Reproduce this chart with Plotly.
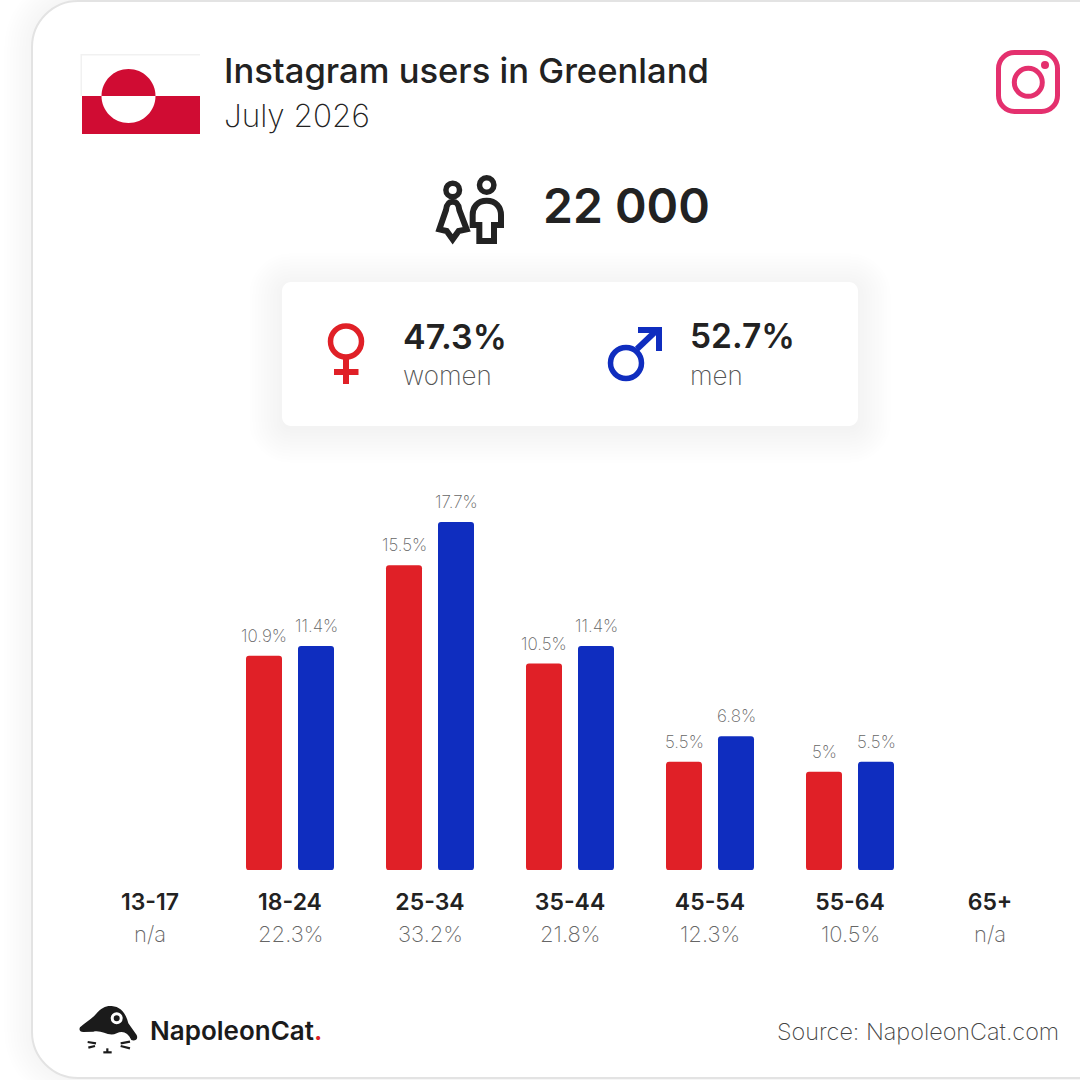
import plotly.graph_objects as go

ages = ["13-17", "18-24", "25-34", "35-44", "45-54", "55-64", "65+"]
totals = ["n/a", "22.3%", "33.2%", "21.8%", "12.3%", "10.5%", "n/a"]
women = [None, 10.9, 15.5, 10.5, 5.5, 5, None]
men = [None, 11.4, 17.7, 11.4, 6.8, 5.5, None]

FONT = "Inter"
RED, BLUE = "#E02027", "#0F2DBF"
DARK, GREY = "#222222", "#666666"
FLAG = "#D00C33"
INSTA = "#E4306E"
LIGHT = 200


def fx(x):
    return x / 1080


def fy(y):
    return 1 - y / 1080


def pts(cmds):
    # path in canvas pixels -> paper coords
    out = []
    for c in cmds:
        if isinstance(c, str):
            out.append(c)
        else:
            out.append(f"{fx(c[0]):.5f},{fy(c[1]):.5f}")
    return " ".join(out)


def shape_path(cmds, fill=None, line=None, width=0, layer="above", opacity=None):
    s = dict(type="path", xref="paper", yref="paper", path=pts(cmds), layer=layer,
             line=dict(width=width, color=line or "rgba(0,0,0,0)"))
    if fill:
        s["fillcolor"] = fill
    if opacity is not None:
        s["opacity"] = opacity
    return s


def round_rect(x0, y0, x1, y1, r):
    k = r * 0.45
    return ["M", (x0 + r, y0), "L", (x1 - r, y0), "C", (x1 - k, y0), (x1, y0 + k), (x1, y0 + r),
            "L", (x1, y1 - r), "C", (x1, y1 - k), (x1 - k, y1), (x1 - r, y1),
            "L", (x0 + r, y1), "C", (x0 + k, y1), (x0, y1 - k), (x0, y1 - r),
            "L", (x0, y0 + r), "C", (x0, y0 + k), (x0 + k, y0), (x0 + r, y0), "Z"]


def half_disc(cx, cy, r, top):
    s = -1 if top else 1
    k = r * 0.5523
    return ["M", (cx - r, cy), "C", (cx - r, cy + s * k), (cx - k, cy + s * r), (cx, cy + s * r),
            "C", (cx + k, cy + s * r), (cx + r, cy + s * k), (cx + r, cy), "Z"]


def rect(x0, y0, x1, y1, fill):
    return dict(type="rect", xref="paper", yref="paper", x0=fx(x0), x1=fx(x1), y0=fy(y0), y1=fy(y1),
                fillcolor=fill, line=dict(width=0))


def circle(cx, cy, r, fill=None, line=None, width=0):
    return dict(type="circle", xref="paper", yref="paper", x0=fx(cx - r), x1=fx(cx + r),
                y0=fy(cy - r), y1=fy(cy + r), fillcolor=fill or "rgba(0,0,0,0)",
                line=dict(width=width, color=line or "rgba(0,0,0,0)"))


def seg(x0, y0, x1, y1, color, width):
    return dict(type="line", xref="paper", yref="paper", x0=fx(x0), x1=fx(x1), y0=fy(y0), y1=fy(y1),
                line=dict(color=color, width=width))


def zoomed(points, ox, oy):
    return [p if isinstance(p, str) else (ox + p[0] / 3, oy + p[1] / 3) for p in points]


shapes = []

# soft shadow and outline of the big card
for i in range(10):
    shapes.append(shape_path(round_rect(31 - 3 * i, 1 - 3 * i, 1200, 1078 + 3 * i, 46 + 3 * i),
                             fill="#000000", layer="below", opacity=0.003))
shapes.append(shape_path(round_rect(32, 1, 1200, 1078, 46), fill="#ffffff", line="#e3e3e3", width=2, layer="below"))

# flag
shapes.append(rect(80.5, 54, 200, 96, "#f1f1f1"))
shapes.append(rect(82, 55.5, 200, 96, "#ffffff"))
shapes.append(rect(82, 96, 200, 134, FLAG))
shapes.append(shape_path(half_disc(128.5, 96, 27, True), fill=FLAG))
shapes.append(shape_path(half_disc(128.5, 96, 27, False), fill="#ffffff"))

# instagram logo
shapes.append(shape_path(round_rect(998.5, 52.5, 1057.5, 111.5, 16), line=INSTA, width=5))
shapes.append(circle(1028.3, 82.3, 14, line=INSTA, width=5))
shapes.append(circle(1045, 65, 4, fill=INSTA))

# people icon
woman = ["M", (98, 125), "C", (85, 125), (80, 133), (78, 150), "L", (58, 208), "L", (80, 213), "L", (98, 238),
         "L", (116, 213), "L", (140, 208), "L", (118, 150), "C", (116, 133), (111, 125), (98, 125), "Z"]
man = ["M", (200, 122), "C", (172, 122), (158, 142), (158, 165), "L", (158, 195), "L", (178, 195), "L", (178, 243),
       "L", (222, 243), "L", (222, 195), "L", (243, 195), "L", (243, 165), "C", (243, 142), (228, 122), (200, 122), "Z"]
shapes.append(shape_path(zoomed(woman, 420, 160), line=DARK, width=6))
shapes.append(shape_path(zoomed(man, 420, 160), line=DARK, width=6))
shapes.append(circle(452.7, 190, 6.8, line=DARK, width=5.5))
shapes.append(circle(486.7, 185, 7.2, line=DARK, width=5.5))

# gender card with shadow
for i in range(12):
    shapes.append(shape_path(round_rect(282 - 3 * i, 282 - 3 * i + 4, 858 + 3 * i, 426 + 3 * i + 4, 8 + 3 * i),
                             fill="#000000", layer="below", opacity=0.003))
shapes.append(shape_path(round_rect(282, 282, 858, 426, 9), fill="#ffffff", layer="below"))

# venus
shapes.append(circle(346, 341.5, 15.5, line=RED, width=5.5))
shapes.append(rect(343, 358, 349, 384, RED))
shapes.append(rect(334, 369, 358.5, 375, RED))

# mars
shapes.append(circle(626, 363, 15.5, line=BLUE, width=5.5))
shapes.append(seg(637, 349, 656, 331, BLUE, 6))
shapes.append(rect(638, 327, 662, 333, BLUE))
shapes.append(rect(656, 327, 662, 351, BLUE))

# cat logo
blob = ["M", (240, 142), "C", (255, 128), (275, 118), (290, 100), "C", (302, 84), (320, 76), (335, 78),
        "C", (362, 80), (378, 100), (385, 130), "L", (410, 165), "C", (416, 178), (404, 184), (394, 180),
        "C", (384, 158), (368, 150), (350, 160), "C", (325, 172), (305, 148), (280, 155),
        "L", (250, 156), "C", (240, 155), (236, 150), (240, 142), "Z"]
shapes.append(shape_path(zoomed(blob, 0, 980), fill="#1b1b1b"))
shapes.append(circle(116.7, 1018.3, 6, fill="#ffffff"))
shapes.append(circle(116.7, 1018.3, 3, fill="#1b1b1b"))
for a, b, c, d in [(263, 186, 288, 190), (265, 203, 285, 198), (362, 190, 390, 185), (362, 198, 390, 205),
                   (310, 217, 335, 217), (322, 205, 322, 217)]:
    shapes.append(seg(a / 3, 980 + b / 3, c / 3, 980 + d / 3, "#1b1b1b", 2.2))

# little squares that round the foot of each bar
r = 3
for i in range(len(ages)):
    if women[i] is None:
        continue
    cx = 150 + 140 * i
    for left in (cx - 44, cx + 8):
        right = left + 36
        shapes.append(shape_path(["M", (left, 870.5), "L", (left + r, 870.5), "Q", (left, 870), (left, 870 - r), "Z"],
                                 fill="#ffffff"))
        shapes.append(shape_path(["M", (right, 870.5), "L", (right - r, 870.5), "Q", (right, 870), (right, 870 - r), "Z"],
                                 fill="#ffffff"))

fig = go.Figure()
fig.add_bar(x=ages, y=women, name="women", marker=dict(color=RED, cornerradius=3, line=dict(width=0)))
fig.add_bar(x=ages, y=men, name="men", marker=dict(color=BLUE, cornerradius=3, line=dict(width=0)))


def label(x, y, text, size, weight=400, color=DARK, anchor="left", family=FONT):
    return dict(xref="paper", yref="paper", x=fx(x), y=fy(y), text=text, showarrow=False, xanchor=anchor,
                yanchor="middle", font=dict(family=family, size=size, color=color, weight=weight),
                borderpad=0, borderwidth=0)


notes = [
    label(224, 70.5, "Instagram users in Greenland", 34.6, 500),
    label(224, 115, "July 2026", 31.5, LIGHT, "#222222"),
    label(543, 205, "22 000", 48, 600),
    label(403, 336, "47.3%", 34, 600),
    label(403, 376, "women", 26, LIGHT, "#555555"),
    label(690, 336, "52.7%", 33.5, 600),
    label(690, 376, "men", 26, LIGHT, "#555555"),
    label(150, 1030, "NapoleonCat<span style='color:#E02027'>.</span>", 26, 600, "#1b1b1b"),
    label(1059, 1031, "Source: NapoleonCat.com", 23.4, LIGHT, "#444444", "right"),
]
for name, total in zip(ages, totals):
    notes.append(dict(x=name, xref="x", yref="paper", y=fy(934), text=total, showarrow=False, yanchor="middle",
                      font=dict(family=FONT, size=22, weight=LIGHT, color=GREY)))
for values, shift in ((women, -26), (men, 26)):
    for name, v in zip(ages, values):
        if v is None:
            continue
        notes.append(dict(x=name, y=v, xref="x", yref="y", text=f"{v}%", showarrow=False, xshift=shift, yshift=20,
                          yanchor="middle", font=dict(family=FONT, size=17, weight=LIGHT, color=GREY)))

fig.update_layout(
    width=1080, height=1080, margin=dict(l=0, r=0, t=0, b=0),
    paper_bgcolor="#ffffff", plot_bgcolor="rgba(0,0,0,0)",
    barmode="group", bargap=36 / 140, bargroupgap=16 / 52, showlegend=False,
    shapes=shapes, annotations=notes, font=dict(family=FONT),
    xaxis=dict(domain=[fx(80), fx(1060)], type="category", categoryorder="array", categoryarray=ages,
               range=[-0.5, 6.5], showgrid=False, zeroline=False, showline=False,
               ticks="outside", ticklen=11, tickcolor="rgba(0,0,0,0)",
               tickfont=dict(family=FONT, size=23, weight=600, color=DARK)),
    yaxis=dict(domain=[fy(870), fy(480)], range=[0, 390 / 19.66], visible=False),
)
fig.write_html("out.html", config=dict(displayModeBar=False),
               post_script="document.body.style.margin='0';")
